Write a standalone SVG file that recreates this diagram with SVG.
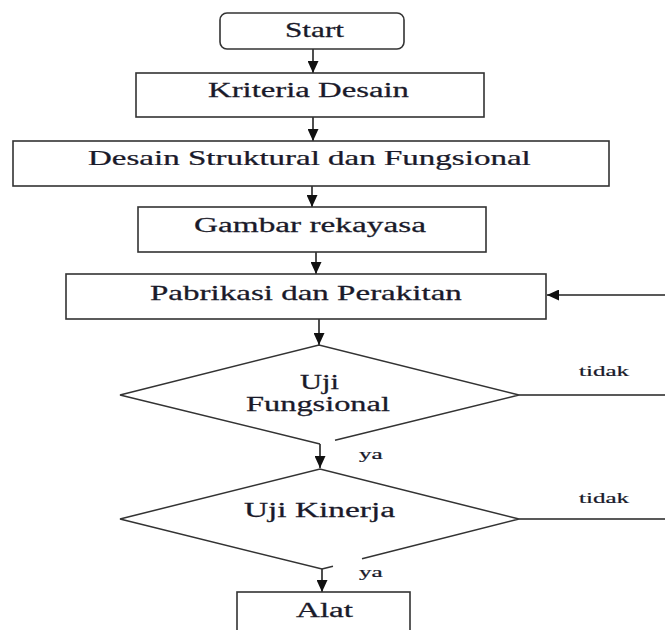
<svg xmlns="http://www.w3.org/2000/svg" width="665" height="630" viewBox="0 0 665 630">
<style>
.box{fill:#fff;stroke:#333;stroke-width:1.6}
.shape{fill:none;stroke:#333;stroke-width:1.5}
.lbl{font-family:"Liberation Serif","Times New Roman",serif;font-size:20px;fill:#1a1a2a;stroke:#1a1a2a;stroke-width:0.25}
.sm{font-family:"Liberation Serif","Times New Roman",serif;font-size:14px;fill:#1a1a2a;stroke:#1a1a2a;stroke-width:0.2}
.conn{stroke:#222;stroke-width:1.6;fill:none}
</style>
<defs>
<marker id="ah" markerUnits="userSpaceOnUse" markerWidth="12" markerHeight="11" refX="12" refY="5.5" orient="auto">
<path d="M0,0 L12,5.5 L0,11 z" fill="#111"/>
</marker>
</defs>
<rect width="665" height="630" fill="#fff"/>
<g id="connectors">
<line class="conn" x1="313" y1="49" x2="313" y2="73" marker-end="url(#ah)"/>
<line class="conn" x1="313" y1="117" x2="313" y2="141" marker-end="url(#ah)"/>
<line class="conn" x1="312" y1="186" x2="312" y2="207" marker-end="url(#ah)"/>
<line class="conn" x1="316" y1="252" x2="316" y2="274" marker-end="url(#ah)"/>
<line class="conn" x1="319" y1="319" x2="319" y2="345" marker-end="url(#ah)"/>
<line class="conn" x1="320" y1="444" x2="320" y2="468" marker-end="url(#ah)"/>
<line class="conn" x1="322" y1="569" x2="322" y2="592" marker-end="url(#ah)"/>
<line class="conn" x1="519" y1="395" x2="665" y2="395"/>
<line class="conn" x1="519" y1="519" x2="665" y2="519"/>
<line class="conn" x1="665" y1="295" x2="547" y2="295" marker-end="url(#ah)"/>
<text class="sm" transform="translate(579,376) scale(1.79,1)">tidak</text>
<text class="sm" transform="translate(359,459) scale(1.8,1)">ya</text>
<text class="sm" transform="translate(579,503) scale(1.79,1)">tidak</text>
<text class="sm" transform="translate(359,577) scale(1.8,1)">ya</text>
</g>
<g id="start">
<rect class="box" x="220" y="13" width="184" height="36" rx="7" stroke="#555"/>
<text class="lbl" transform="translate(285,37) scale(1.562,1)">Start</text>
</g>
<g id="kriteria">
<rect class="box" x="136" y="73" width="348" height="44"/>
<text class="lbl" transform="translate(208,97) scale(1.638,1)">Kriteria Desain</text>
</g>
<g id="desain">
<rect class="box" x="13" y="141" width="596" height="45"/>
<text class="lbl" transform="translate(88,165) scale(1.651,1)">Desain Struktural dan Fungsional</text>
</g>
<g id="gambar">
<rect class="box" x="138" y="207" width="348" height="45"/>
<text class="lbl" transform="translate(194,232) scale(1.665,1)">Gambar rekayasa</text>
</g>
<g id="pabrikasi">
<rect class="box" x="66" y="274" width="480" height="45"/>
<text class="lbl" transform="translate(150,300) scale(1.652,1)">Pabrikasi dan Perakitan</text>
</g>
<g id="uji-fungsional">
<polyline class="shape" points="335,440.3 519,395 319,345 120,395 320,444"/>
<text class="lbl" transform="translate(300,388.5) scale(1.526,1)">Uji</text>
<text class="lbl" transform="translate(246,411) scale(1.62,1)">Fungsional</text>
</g>
<g id="uji-kinerja">
<polyline class="shape" points="362,558.8 519,519 320,469 120,519 322,569 333,566.2"/>
<text class="lbl" transform="translate(244,517) scale(1.668,1)">Uji Kinerja</text>
</g>
<g id="alat">
<rect class="box" x="237" y="592" width="173" height="60"/>
<text class="lbl" transform="translate(296,617) scale(1.656,1)">Alat</text>
</g>
</svg>
